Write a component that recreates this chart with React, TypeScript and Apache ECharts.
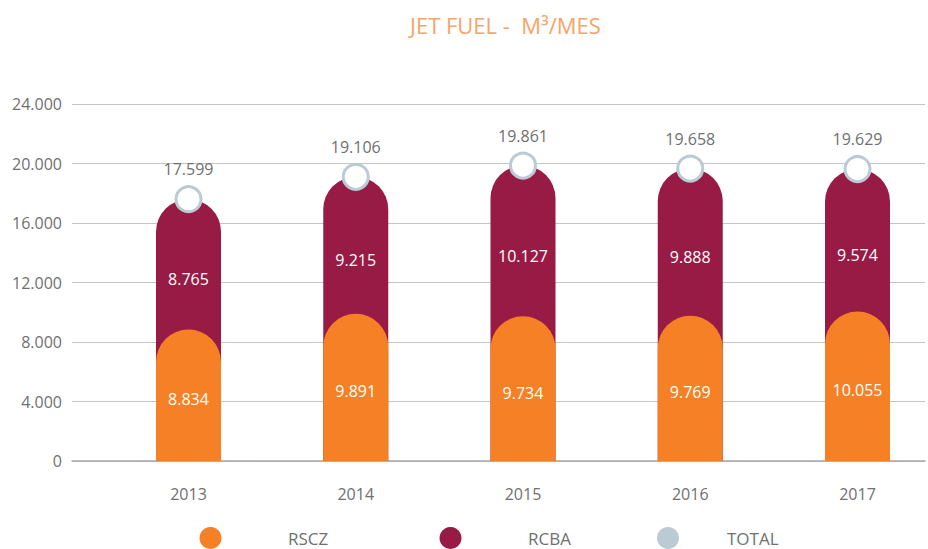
import React, { useEffect, useRef } from "react";
import * as echarts from "echarts";

const years = ["2013", "2014", "2015", "2016", "2017"];
const rscz = [8834, 9891, 9734, 9769, 10055];
const rcba = [8765, 9215, 10127, 9888, 9574];
const totals = [17599, 19106, 19861, 19658, 19629];
const yTicks = { min: 0, max: 24000, interval: 4000 };

const ORANGE = "#f58025";
const MAROON = "#981b45";
const TOTALC = "#bacbd4";
const GRAY = "#707070";
const FONT = "'Open Sans', 'Noto Sans', sans-serif";

const fmt = (v: number) =>
  Math.round(v).toString().replace(/\B(?=(\d{3})+(?!\d))/g, ".");

export default function App() {
  const ref = useRef<HTMLDivElement>(null);
  useEffect(() => {
    if (!ref.current) return;
    const chart = echarts.init(ref.current, null, { renderer: "svg" });
    const barCommon = {
      type: "bar" as const,
      xAxisIndex: 1,
      yAxisIndex: 1,
      barWidth: 65,
      barGap: "-100%",
    };
    chart.setOption({
      animation: false,
      textStyle: { fontFamily: FONT },
      title: {
        text: "JET FUEL -  M³/MES",
        left: 405,
        top: 9,
        textStyle: { color: "#f6a468", fontSize: 22, fontWeight: "normal", fontFamily: FONT },
      },
      grid: [
        { left: 72, right: 3, top: 104, bottom: 88 },
        { left: 188.5, width: 669, top: 104, bottom: 88 },
      ],
      xAxis: [
        {
          gridIndex: 0,
          type: "category",
          data: [""],
          axisLine: { show: true, lineStyle: { color: "#a8a8a8", width: 1.5 } },
          axisTick: { show: false },
          axisLabel: { show: false },
        },
        {
          gridIndex: 1,
          type: "category",
          boundaryGap: false,
          data: years,
          axisLine: { show: false },
          axisTick: { show: false },
          axisLabel: { color: GRAY, fontSize: 16, margin: 25, fontFamily: FONT },
        },
      ],
      yAxis: [
        {
          gridIndex: 0,
          type: "value",
          ...yTicks,
          axisLine: { show: false },
          axisTick: { show: false },
          axisLabel: {
            color: GRAY,
            fontSize: 16,
            margin: 10,
            fontFamily: FONT,
            formatter: (v: number) => fmt(v),
          },
          splitLine: { show: true, lineStyle: { color: "#c4c4c4", width: 1 } },
        },
        {
          gridIndex: 1,
          type: "value",
          ...yTicks,
          show: false,
          splitLine: { show: false },
        },
      ],
      series: [
        {
          ...barCommon,
          name: "RCBA",
          data: totals,
          itemStyle: { color: MAROON, borderRadius: [32.5, 32.5, 0, 0] },
          z: 2,
        },
        {
          ...barCommon,
          name: "RSCZ",
          stack: "seg",
          data: rscz,
          itemStyle: { color: ORANGE, borderRadius: [32.5, 32.5, 0, 0] },
          label: {
            show: true,
            position: "inside",
            offset: [0, 4],
            color: "#ffffff",
            fontSize: 16,
            fontFamily: FONT,
            formatter: (p: any) => fmt(p.value),
          },
          z: 3,
        },
        {
          ...barCommon,
          name: "RCBA valor",
          stack: "seg",
          data: rcba,
          itemStyle: { color: "rgba(0,0,0,0)" },
          label: {
            show: true,
            position: "inside",
            offset: [0, 15],
            color: "#ffffff",
            fontSize: 16,
            fontFamily: FONT,
            formatter: (p: any) => fmt(p.value),
          },
          z: 3,
        },
        {
          type: "scatter",
          name: "TOTAL",
          xAxisIndex: 1,
          yAxisIndex: 1,
          data: totals,
          symbol: "circle",
          symbolSize: 25,
          itemStyle: { color: "#ffffff", borderColor: TOTALC, borderWidth: 3, opacity: 1 },
          label: {
            show: true,
            position: "top",
            distance: 8,
            color: GRAY,
            fontSize: 16,
            fontFamily: FONT,
            formatter: (p: any) => fmt(p.value),
          },
          z: 5,
        },
      ],
      graphic: [
        { type: "circle", shape: { cx: 210.5, cy: 538, r: 11 }, style: { fill: ORANGE } },
        {
          type: "text",
          x: 288,
          y: 538,
          style: { text: "RSCZ", fill: GRAY, fontSize: 17, fontFamily: FONT, verticalAlign: "middle" },
        },
        { type: "circle", shape: { cx: 450.5, cy: 538, r: 11 }, style: { fill: MAROON } },
        {
          type: "text",
          x: 528,
          y: 538,
          style: { text: "RCBA", fill: GRAY, fontSize: 17, fontFamily: FONT, verticalAlign: "middle" },
        },
        { type: "circle", shape: { cx: 668, cy: 538, r: 11 }, style: { fill: TOTALC } },
        {
          type: "text",
          x: 727,
          y: 538,
          style: { text: "TOTAL", fill: GRAY, fontSize: 17, fontFamily: FONT, verticalAlign: "middle" },
        },
      ],
    });
    return () => chart.dispose();
  }, []);
  return (
    <div
      ref={ref}
      style={{ position: "fixed", left: 0, top: 0, width: 928, height: 549, background: "#ffffff" }}
    />
  );
}
